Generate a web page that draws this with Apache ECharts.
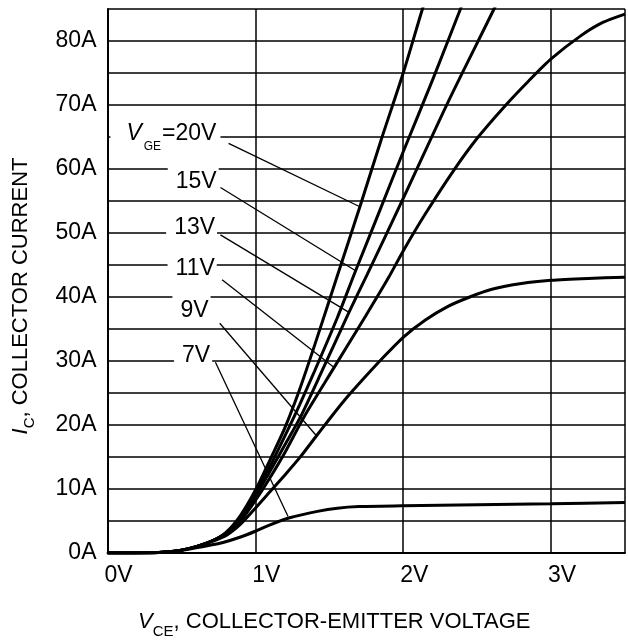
<!DOCTYPE html>
<html><head><meta charset="utf-8">
<script src="https://cdn.jsdelivr.net/npm/echarts@6/dist/echarts.min.js"></script>
<style>html,body{margin:0;padding:0;background:#fff}#c{width:628px;height:644px}</style>
</head><body><div id="c"></div>
<script>
// ---- axis ticks ----
const xTicks = [0, 1, 2, 3];
const xTickLabels = ['0V', '1V', '2V', '3V'];
const yTicks = [0, 10, 20, 30, 40, 50, 60, 70, 80];
const yTickLabels = ['0A', '10A', '20A', '30A', '40A', '50A', '60A', '70A', '80A'];

// ---- curves: VCE (V) and IC (A) for each VGE ----
const vge20V = [0, 0.3, 0.4, 0.5, 0.6, 0.7, 0.8, 0.9, 1.0, 1.1, 1.2, 1.3, 1.4, 1.55, 1.707, 1.85, 2.0, 2.13, 2.2];
const vge20I = [0, 0.02, 0.15, 0.45, 1.0, 1.8, 3.2, 5.9, 9.8, 14.6, 19.6, 25.6, 32.4, 43, 54.1, 64.5, 75, 85, 90];

const vge15V = [0, 0.3, 0.4, 0.5, 0.6, 0.7, 0.8, 0.9, 1.0, 1.1, 1.2, 1.3, 1.4, 1.555, 1.678, 1.85, 2.0, 2.2, 2.387, 2.45];
const vge15I = [0, 0.02, 0.15, 0.45, 1.0, 1.8, 3.1, 5.6, 9.3, 13.6, 18.3, 23.2, 28.4, 36.8, 44.1, 54, 62.7, 74, 85, 88.6];

const vge13V = [0, 0.3, 0.4, 0.5, 0.6, 0.7, 0.8, 0.9, 1.0, 1.1, 1.2, 1.306, 1.45, 1.633, 1.756, 2.0, 2.3, 2.614, 2.7];
const vge13I = [0, 0.02, 0.15, 0.45, 1.0, 1.8, 3.0, 5.3, 8.8, 12.8, 16.9, 21.3, 28.4, 37.6, 43.5, 55.4, 70.3, 85, 89.2];

const vge11V = [0, 0.3, 0.4, 0.5, 0.6, 0.7, 0.8, 0.9, 1.0, 1.1, 1.2, 1.33, 1.533, 1.745, 1.9, 2.0, 2.15, 2.336, 2.5, 2.69, 2.85, 3.0, 3.2, 3.35, 3.5];
const vge11I = [0, 0.02, 0.15, 0.45, 1.0, 1.8, 2.9, 5.0, 8.2, 11.8, 15.7, 21.3, 29.0, 37.0, 43, 47.2, 53, 59.6, 64.8, 69.9, 73.8, 77.2, 80.8, 82.9, 84.2];

const vge9V = [0, 0.3, 0.4, 0.5, 0.6, 0.7, 0.8, 0.9, 1.0, 1.1, 1.2, 1.3, 1.41, 1.5, 1.6, 1.734, 1.85, 2.0, 2.15, 2.3, 2.45, 2.6, 2.8, 3.0, 3.25, 3.5];
const vge9I = [0, 0.02, 0.15, 0.45, 1.0, 1.75, 2.7, 4.5, 7.0, 9.6, 12.2, 14.9, 18.2, 20.9, 23.8, 27.3, 30.2, 33.7, 36.4, 38.5, 40.0, 41.2, 42.1, 42.6, 42.9, 43.1];

const vge7V = [0, 0.3, 0.4, 0.5, 0.6, 0.7, 0.775, 0.9, 1.0, 1.1, 1.232, 1.42, 1.555, 1.7, 2.0, 2.5, 3.0, 3.5];
const vge7I = [0, 0.02, 0.15, 0.4, 0.8, 1.25, 1.6, 2.5, 3.4, 4.4, 5.5, 6.5, 7.0, 7.25, 7.4, 7.55, 7.7, 7.9];

// ---- curve labels (text right edge, in data units) and leader lines ----
const labelTexts = ['{v|V}{s|GE}{n|=20V}', '15V', '13V', '11V', '9V', '7V'];
const labelPosV = [0.764, 0.752, 0.741, 0.739, 0.697, 0.708];
const labelPosI = [65.5, 58.1, 50.9, 44.4, 37.9, 30.9];
const leaderStartV = [0.819, 0.764, 0.764, 0.775, 0.759, 0.730];
const leaderStartI = [64.0, 57.1, 49.7, 42.7, 35.9, 29.8];
const leaderEndV = [1.707, 1.678, 1.633, 1.533, 1.41, 1.221];
const leaderEndI = [54.1, 44.1, 37.6, 29.0, 18.4, 5.7];

const FONT = '"Liberation Sans", Arial, Helvetica, sans-serif';
const pairs = (xs, ys) => xs.map((x, k) => [x, ys[k]]);
const curveSets = [[vge20V, vge20I], [vge15V, vge15I], [vge13V, vge13I], [vge11V, vge11I], [vge9V, vge9I], [vge7V, vge7I]];

const curveSeries = curveSets.map(([xs, ys]) => ({
  type: 'line',
  data: pairs(xs, ys),
  showSymbol: false,
  smooth: 0.25,
  clip: true,
  lineStyle: { color: '#000', width: 3 },
  z: 3
}));

const leaderSeries = {
  type: 'lines',
  coordinateSystem: 'cartesian2d',
  data: leaderStartV.map((v, k) => ({ coords: [[v, leaderStartI[k]], [leaderEndV[k], leaderEndI[k]]] })),
  lineStyle: { color: '#000', width: 1.3, opacity: 1, curveness: 0 },
  silent: true,
  z: 4
};

const plainText = { color: '#000', textBorderWidth: 0, textBorderColor: 'transparent', textShadowBlur: 0 };
const labelSeries = {
  type: 'scatter',
  symbolSize: 0,
  silent: true,
  z: 5,
  data: labelPosV.map((v, k) => ({
    value: [v, labelPosI[k]],
    label: Object.assign({
      show: true,
      position: [0, 0],
      align: 'right',
      verticalAlign: 'middle',
      formatter: labelTexts[k],
      fontFamily: FONT,
      fontSize: 23,
      backgroundColor: '#fff',
      opacity: 1,
      padding: k === 0 ? [0, 4, 0, 16] : [3, 2, 3, 8],
      rich: k === 0 ? {
        v: Object.assign({ fontFamily: FONT, fontSize: 23, fontStyle: 'italic' }, plainText),
        s: Object.assign({ fontFamily: FONT, fontSize: 12, padding: [26, 1, 0, 2] }, plainText),
        n: Object.assign({ fontFamily: FONT, fontSize: 23 }, plainText)
      } : undefined
    }, plainText)
  }))
};

const chart = echarts.init(document.getElementById('c'), null, { renderer: 'canvas' });
chart.setOption({
  animation: false,
  backgroundColor: '#fff',
  textStyle: { fontFamily: FONT, color: '#000' },
  grid: { left: 107.5, top: 9, width: 522.5, height: 548, containLabel: false },
  xAxis: {
    type: 'value', min: 0, max: 3.5, interval: 1,
    axisLine: { show: true, onZero: false, lineStyle: { color: '#000', width: 2 } },
    axisTick: { show: false },
    splitLine: { show: true, lineStyle: { color: '#000', width: 1.5 } },
    axisLabel: {
      fontFamily: FONT, fontSize: 23, color: '#000', margin: 11,
      padding: [0, 0, 0, 22],
      formatter: v => { const k = xTicks.indexOf(v); return k >= 0 ? xTickLabels[k] : ''; }
    },
    name: '{i|V}{s|CE}{n|, COLLECTOR-EMITTER VOLTAGE}',
    nameLocation: 'middle',
    nameGap: 52,
    nameTextStyle: {
      padding: [0, 64, 0, 0],
      rich: {
        i: { fontFamily: FONT, fontSize: 22, fontStyle: 'italic', color: '#000' },
        s: { fontFamily: FONT, fontSize: 15, color: '#000', padding: [19, 0, 0, 0] },
        n: { fontFamily: FONT, fontSize: 22, color: '#000' }
      }
    }
  },
  yAxis: {
    type: 'value', min: 0, max: 85, interval: 5,
    axisLine: { show: true, onZero: false, lineStyle: { color: '#000', width: 2 } },
    axisTick: { show: false },
    splitLine: { show: true, lineStyle: { color: '#000', width: 1.5 } },
    axisLabel: {
      fontFamily: FONT, fontSize: 23, color: '#000', margin: 11,
      verticalAlign: 'middle', padding: [0, 0, 15, 0],
      formatter: v => { const k = yTicks.indexOf(v); return k >= 0 ? yTickLabels[k] : ''; }
    },
    name: '{i|I}{s|C}{n|, COLLECTOR CURRENT}',
    nameLocation: 'middle',
    nameGap: 70,
    nameTextStyle: {
      padding: [0, 30, 0, 0],
      rich: {
        i: { fontFamily: FONT, fontSize: 22, fontStyle: 'italic', color: '#000' },
        s: { fontFamily: FONT, fontSize: 15, color: '#000', padding: [19, 0, 0, 0] },
        n: { fontFamily: FONT, fontSize: 22, color: '#000' }
      }
    }
  },
  series: [...curveSeries, leaderSeries, labelSeries]
});
</script></body></html>
